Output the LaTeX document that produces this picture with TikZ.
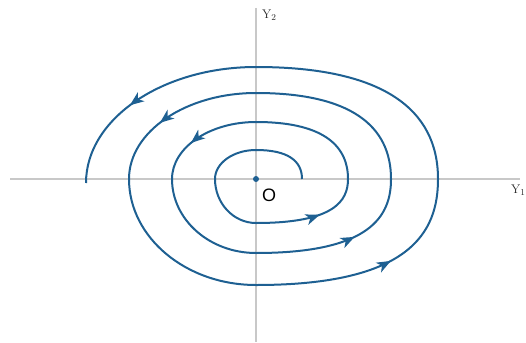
\documentclass[tikz,border=0pt]{standalone}
\usepackage{fontspec}
\newfontfamily\labelsans{Liberation Sans}
\usetikzlibrary{arrows.meta,decorations.markings,positioning}

\definecolor{spiralblue}{RGB}{30,96,146}
\definecolor{axisgray}{RGB}{200,200,200}

\tikzset{
  flowtip/.tip={Stealth[length=14pt,width=11pt,inset=4pt]},
  axis line/.style={draw=axisgray, line width=1.3pt},
  axis label/.style={text=black!85, font=\fontsize{12.5}{14}\selectfont, inner sep=0pt},
  spiral/.style={color=spiralblue, line width=2pt, postaction={decorate},
    decoration={markings,
      mark=at position 248pt with {\arrow{flowtip}},
      mark=at position 489pt with {\arrow{flowtip}},
      mark=at position 756pt with {\arrow{flowtip}},
      mark=at position 1112pt with {\arrow{flowtip}},
      mark=at position 1500pt with {\arrow{flowtip}},
      mark=at position 1975pt with {\arrow{flowtip}}}}
}

\begin{document}
\begin{tikzpicture}[x=1pt,y=-1pt]
  \useasboundingbox (0,0) rectangle (526,342);

  \coordinate (O) at (256,179);
  \coordinate (W) at (10,179);
  \coordinate (E) at (520,179);
  \coordinate (N) at (256,8);
  \coordinate (S) at (256,342);

  % axes
  \draw[axis line] (W) -- (E);
  \draw[axis line] (N) -- (S);
  \node[axis label, anchor=north west] (y1) at (511,185) {Y$_1$};
  \node[axis label, anchor=north west] (y2) at (262,10) {Y$_2$};

  % where the trajectory crosses the axes
  \coordinate (p0) at (302,179);
  \coordinate (p1) at (256,150);
  \coordinate (p2) at (215,179);
  \coordinate (p3) at (256,223);
  \coordinate (p4) at (348,179);
  \coordinate (p5) at (256,122);
  \coordinate (p6) at (172,179);
  \coordinate (p7) at (256,253);
  \coordinate (p8) at (391,179);
  \coordinate (p9) at (256,93);
  \coordinate (p10) at (129,179);
  \coordinate (p11) at (256,285);
  \coordinate (p12) at (438,179);
  \coordinate (p13) at (256,67);
  \coordinate (p14) at (86,183);

  % trajectory, spiralling out from p0
  \draw[spiral] (p0)
    .. controls (302,161) and (288.2,150) .. (p1)
    .. controls (233.4,150) and (215,163) .. (p2)
    .. controls (215,203.3) and (233.4,223) .. (p3)
    .. controls (334.2,223) and (348,201) .. (p4)
    .. controls (348,143.7) and (320.4,122) .. (p5)
    .. controls (209.6,122) and (172,147.5) .. (p6)
    .. controls (172,219.8) and (209.6,253) .. (p7)
    .. controls (370.8,253) and (391,216) .. (p8)
    .. controls (391,125.7) and (350.5,93) .. (p9)
    .. controls (185.9,93) and (129,131.5) .. (p10)
    .. controls (129,237.5) and (185.9,285) .. (p11)
    .. controls (410.7,285) and (438,232) .. (p12)
    .. controls (438,109.6) and (383.4,67) .. (p13)
    .. controls (162.2,67) and (86,119) .. (p14);

  % equilibrium
  \node[circle, fill=spiralblue, inner sep=0pt, minimum size=6pt] (dot) at (O) {};
  \node[font=\labelsans\fontsize{18}{20}\selectfont, inner sep=0pt] (olabel) at (269,195) {O};

\end{tikzpicture}
\end{document}
